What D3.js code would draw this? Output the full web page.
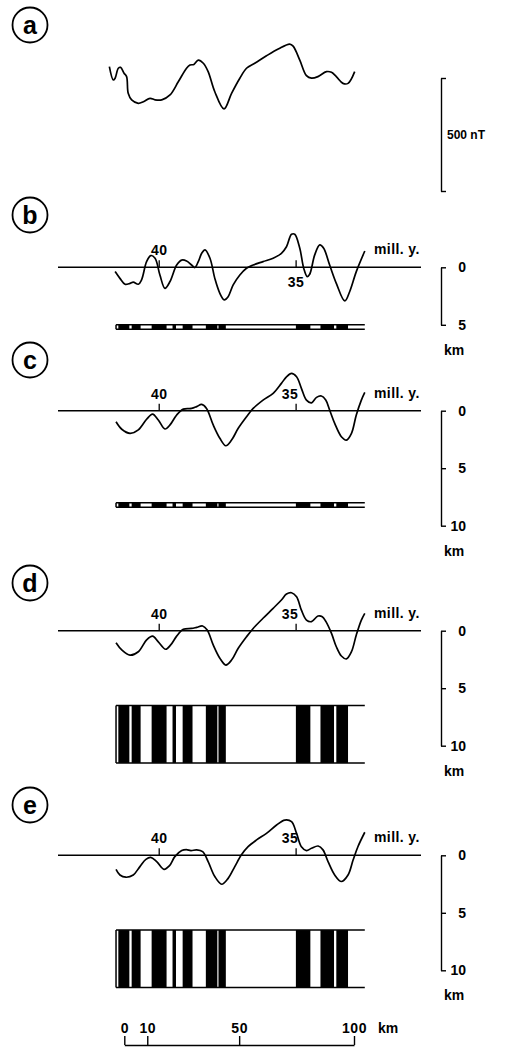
<!DOCTYPE html>
<html>
<head>
<meta charset="utf-8">
<script src="https://cdn.jsdelivr.net/npm/d3@7"></script>
<style>
  body { margin: 0; background: #fff; }
  svg text { font-family: "Liberation Sans", Arial, sans-serif; font-weight: bold; fill: #000; }
</style>
</head>
<body>
<div id="chart"></div>
<script>
// profiles: [distance km, anomaly nT]
const profileA = [[-6.5, 59], [-4.8, 0], [-4.0, 8], [-2.6, 52], [-1.6, 56], [-0.1, 30], [1.0, 15], [1.7, -59],
  [3.2, -88], [6.1, -103], [8.3, -96], [11.2, -81], [13.4, -88], [16.3, -88], [19.9, -66], [23.5, -8],
  [27.1, 52], [28.6, 66], [30.3, 69], [32.2, 88], [34.4, 74], [36.5, 37], [39.4, -52], [43.4, -128],
  [46.7, -59], [50.3, 8], [53.2, 52], [56.8, 74], [61.9, 107], [67.0, 137], [72.0, 159], [73.5, 150],
  [76.4, 88], [79.3, 19], [81.5, 8], [84.3, 15], [88.0, 37], [90.2, 34], [92.3, 15], [95.2, -15],
  [97.4, -15], [100.3, 37]];

const profileB = [[-4.0, -19], [-1.9, -49], [0.3, -75], [2.5, -71], [3.9, -66], [6.1, -75], [7.5, -56],
  [9.7, 25], [11.5, 52], [13.4, 40], [15.5, -34], [17.7, -93], [19.9, -63], [22.8, 10], [25.0, 32],
  [27.1, 28], [29.3, 10], [30.7, -1], [32.2, 25], [33.7, 62], [35.1, 77], [37.3, 40], [39.4, -49],
  [41.6, -115], [43.5, -144], [45.2, -130], [47.4, -78], [50.3, -34], [53.2, -4], [56.1, 10], [60.4, 25],
  [64.8, 40], [68.4, 62], [70.6, 91], [72.8, 146], [74.2, 146], [76.4, 84], [78.1, -4], [79.6, -41],
  [80.7, -31], [82.9, 55], [85.1, 99], [86.8, 84], [89.4, 10], [92.3, -71], [96.0, -149], [98.1, -108],
  [101.0, -19], [104.7, 72]];

const profileC = [[-3.6, -49], [-1.1, -82], [2.5, -100], [6.1, -85], [9.7, -38], [12.3, -15], [14.8, -41],
  [17.7, -81], [19.9, -63], [22.8, -19], [25.7, 7], [29.3, 10], [31.5, 18], [33.7, 28], [35.8, 10],
  [38.7, -63], [41.6, -122], [44.2, -155], [46.7, -130], [49.6, -78], [53.2, -27], [56.1, 10], [60.4, 47],
  [64.8, 77], [68.4, 121], [70.6, 150], [72.8, 165], [75.0, 150], [77.1, 99], [79.3, 47], [81.5, 35],
  [83.7, 59], [85.8, 65], [87.7, 47], [89.4, 3], [91.6, -56], [94.5, -115], [96.7, -130], [98.9, -100],
  [101.0, -19], [103.2, 47], [104.7, 81]];

const profileD = [[-3.6, -53], [-1.1, -85], [2.5, -108], [6.1, -93], [9.7, -41], [12.3, -24], [14.8, -49],
  [18.0, -82], [20.2, -63], [22.8, -24], [25.7, 6], [29.3, 10], [31.5, 15], [34.1, 21], [36.1, 3],
  [38.7, -63], [41.6, -122], [44.2, -152], [46.7, -130], [49.6, -78], [53.2, -27], [56.1, 10], [60.4, 55],
  [64.8, 99], [68.4, 136], [70.6, 162], [72.8, 168], [75.0, 150], [77.1, 91], [79.3, 47], [81.5, 40],
  [84.3, 65], [86.2, 62], [87.8, 40], [90.2, -12], [92.3, -71], [94.5, -112], [96.7, -125], [98.9, -93],
  [101.0, -19], [103.2, 47], [104.7, 77]];

const profileE = [[-3.6, -62], [-1.9, -87], [0.7, -97], [3.9, -87], [6.8, -50], [9.4, -18], [11.5, -9],
  [14.1, -28], [17.3, -62], [19.6, -47], [22.0, -6], [25.0, 21], [27.0, 25], [29.0, 21], [31.5, 24], [34.1, 16],
  [36.5, -28], [39.4, -94], [42.4, -128], [45.2, -102], [48.1, -50], [51.0, 2], [53.9, 38], [57.6, 68],
  [61.9, 97], [66.3, 134], [69.9, 156], [72.8, 149], [75.0, 97], [77.1, 38], [79.3, 21], [81.5, 31],
  [84.4, 41], [86.5, 24], [88.7, -28], [91.6, -87], [94.5, -116], [97.4, -87], [99.6, -21], [101.7, 38],
  [104.7, 102]];

// normally magnetised blocks, km along profile
const normalBlocks = [[-2.6, 2.2], [3.2, 7.1], [11.9, 18.4], [21.0, 22.5], [25.4, 29.7], [35.5, 40.5],
  [41.0, 44.2], [74.7, 81.0], [85.4, 91.3], [92.3, 97.4]];
const surveyKm = [-3.6, 104.7];

const ageLabels = [40, 35];
const ageKm = [15.2, 74.8];
const depthTicksShort = [0, 5];
const depthTicks = [0, 5, 10];
const layerB = [5.0, 5.38];
const layerC = [8.0, 8.4];
const layerDE = [6.5, 11.5];
const distanceTicks = [0, 10, 50, 100];
const fieldBar = [0, 500];

const width = 508, height = 1048;
const pxPerNT = 113 / 500;
const pxPerKmDepth = 11.5;

const svg = d3.select('#chart').append('svg')
  .attr('width', width)
  .attr('height', height);

const x = d3.scaleLinear().domain([0, 100]).range([124.3, 354]);
const age = d3.scaleLinear().domain(ageLabels).range(ageKm.map(x));

const line = d3.line()
  .x(d => x(d[0]))
  .curve(d3.curveCatmullRom.alpha(0.5));

const panels = [
  {label: 'a', labelY: 25, zeroY: 80, data: profileA},
  {label: 'b', labelY: 215, zeroY: 267.3, data: profileB, ticks: depthTicksShort, layer: layerB, below35: true},
  {label: 'c', labelY: 360, zeroY: 410.7, data: profileC, ticks: depthTicks, layer: layerC},
  {label: 'd', labelY: 583, zeroY: 630.7, data: profileD, ticks: depthTicks, layer: layerDE},
  {label: 'e', labelY: 805, zeroY: 855.3, data: profileE, ticks: depthTicks, layer: layerDE}
];

function fixAxisText(g) {
  g.attr('font-family', null).attr('font-size', null);
  g.selectAll('path, line').attr('stroke', '#000').attr('stroke-width', 1.4);
}

panels.forEach(p => {
  // circled letter
  svg.append('circle')
    .attr('cx', 30).attr('cy', p.labelY).attr('r', 17.5)
    .attr('fill', 'none').attr('stroke', '#000').attr('stroke-width', 1.8);
  svg.append('text')
    .attr('x', 30).attr('y', p.labelY)
    .attr('dy', '0.35em')
    .attr('text-anchor', 'middle')
    .style('font-size', '25px')
    .text(p.label);

  const y = v => p.zeroY - v * pxPerNT;
  svg.append('path')
    .attr('d', line.y(d => y(d[1]))(p.data))
    .attr('fill', 'none')
    .attr('stroke', '#000')
    .attr('stroke-width', 1.7);

  if (!p.ticks) return;

  // zero line with age ticks
  svg.append('line')
    .attr('x1', 58).attr('x2', 421)
    .attr('y1', p.zeroY).attr('y2', p.zeroY)
    .attr('stroke', '#000').attr('stroke-width', 1.5);

  ageLabels.forEach(a => {
    svg.append('line')
      .attr('x1', age(a)).attr('x2', age(a))
      .attr('y1', p.zeroY).attr('y2', p.zeroY - 7)
      .attr('stroke', '#000').attr('stroke-width', 1.3);
    const under = p.below35 && a === 35;
    svg.append('text')
      .attr('x', age(a) - (a === 35 && !under ? 6 : 0))
      .attr('y', under ? p.zeroY + 20 : p.zeroY - 12)
      .attr('text-anchor', 'middle')
      .style('font-size', '14px')
      .style('letter-spacing', '0.5px')
      .text(a);
  });

  svg.append('text')
    .attr('x', 374).attr('y', p.zeroY - 13)
    .style('font-size', '14px')
    .style('letter-spacing', '0.4px')
    .text('mill. y.');

  // depth axis
  const depth = d3.scaleLinear()
    .domain([0, d3.max(p.ticks)])
    .range([p.zeroY, p.zeroY + d3.max(p.ticks) * pxPerKmDepth]);
  const axis = svg.append('g')
    .attr('transform', `translate(441,0)`)
    .call(d3.axisRight(depth).tickValues(p.ticks).tickFormat(d3.format('d')).tickSize(5).tickSizeOuter(0))
    .call(fixAxisText);
  axis.selectAll('text')
    .attr('x', 25)
    .attr('text-anchor', 'end')
    .style('font-size', '14px');
  svg.append('text')
    .attr('x', 454).attr('y', depth(d3.max(p.ticks)) + 30)
    .attr('text-anchor', 'middle')
    .style('font-size', '14px')
    .text('km');

  // magnetised layer
  const top = depth(p.layer[0]), bottom = depth(p.layer[1]);
  svg.append('g').selectAll('rect')
    .data(normalBlocks)
    .join('rect')
    .attr('x', d => x(d[0]))
    .attr('width', d => x(d[1]) - x(d[0]))
    .attr('y', top)
    .attr('height', bottom - top)
    .attr('fill', '#000');
  [top, bottom].forEach(yy => {
    svg.append('line')
      .attr('x1', x(surveyKm[0])).attr('x2', x(surveyKm[1]))
      .attr('y1', yy).attr('y2', yy)
      .attr('stroke', '#000').attr('stroke-width', 1.5);
  });
  svg.append('line')
    .attr('x1', x(surveyKm[0])).attr('x2', x(surveyKm[0]))
    .attr('y1', top).attr('y2', bottom)
    .attr('stroke', '#000').attr('stroke-width', 1.5);
});

// 500 nT bar
const field = d3.scaleLinear().domain(fieldBar).range([191, 191 - 500 * pxPerNT]);
svg.append('g')
  .attr('transform', 'translate(441,0)')
  .call(d3.axisRight(field).tickValues(fieldBar).tickSize(5).tickSizeOuter(0).tickFormat(''))
  .call(fixAxisText);
svg.append('text')
  .attr('x', 447).attr('y', field(250))
  .attr('dy', '0.35em')
  .style('font-size', '12px')
  .text('500 nT');

// distance scale
svg.append('g')
  .attr('transform', 'translate(0,1045)')
  .call(d3.axisTop(x).tickValues(distanceTicks).tickSize(9).tickPadding(3).tickSizeOuter(0))
  .call(fixAxisText)
  .selectAll('text')
  .style('font-size', '14px')
  .style('letter-spacing', '0.5px');
svg.append('text')
  .attr('x', 378).attr('y', 1033)
  .style('font-size', '14px')
  .text('km');
</script>
</body>
</html>
